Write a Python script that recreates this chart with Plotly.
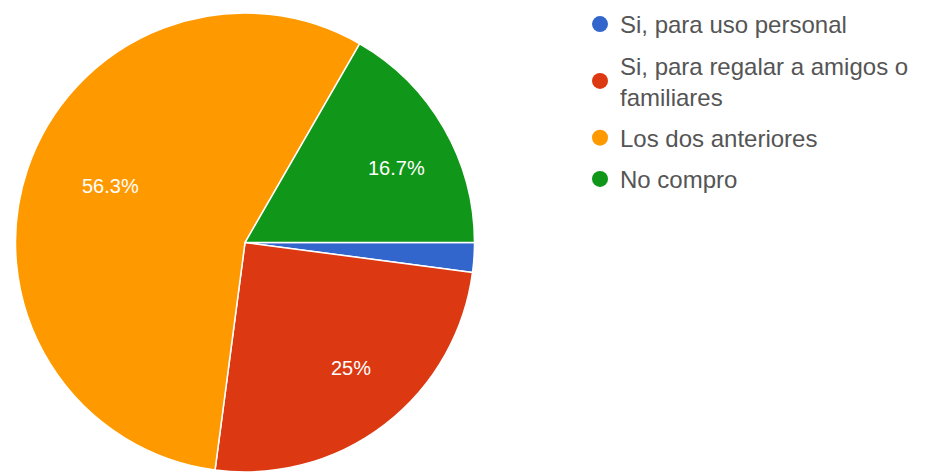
import math
from decimal import Decimal, ROUND_HALF_UP
import plotly.graph_objects as go

categories = ["Si, para uso personal", "Si, para regalar a amigos o familiares",
              "Los dos anteriores", "No compro"]
legend_names = ["Si, para uso personal", "Si, para regalar a amigos o<br>familiares",
                "Los dos anteriores", "No compro"]
values = [1, 12, 27, 8]
colors = ["#3366cc", "#dc3912", "#ff9900", "#109618"]

W, H = 927, 472
FONT = "Liberation Sans, Arial, sans-serif"

total = sum(values)
labels_txt = []
for v in values:
    p = Decimal(v * 100) / Decimal(total)
    s = str(p.quantize(Decimal("0.1"), rounding=ROUND_HALF_UP))
    s = s.rstrip("0").rstrip(".") + "%"
    labels_txt.append(s if p >= 5 else "")

dom_x = [0, 490 / W]
dom_y = [0, 459 / H]

fig = go.Figure()
fig.add_trace(go.Pie(
    labels=categories, values=values, textinfo="none",
    sort=False, direction="clockwise", rotation=90,
    marker=dict(colors=colors, line=dict(color="white", width=1.5)),
    domain=dict(x=dom_x, y=dom_y),
    showlegend=False, hoverinfo="label+percent",
))
for i, (nm, c) in enumerate(zip(legend_names, colors)):
    fig.add_trace(go.Scatter(
        x=[None], y=[None], mode="markers", name=nm, legendgroup=f"g{i}",
        marker=dict(color=c, size=16, symbol="circle"),
    ))

# pie geometry (pixels) derived from the domain
cx = (dom_x[0] + dom_x[1]) / 2 * W
cy = (1 - (dom_y[0] + dom_y[1]) / 2) * H
rad = min((dom_x[1] - dom_x[0]) * W, (dom_y[1] - dom_y[0]) * H) / 2
cum = 0
for v, t in zip(values, labels_txt):
    mid = (cum + v / 2) / total * 2 * math.pi
    cum += v
    if not t:
        continue
    px = cx + 0.76 * rad * math.cos(mid)
    py = cy + 0.76 * rad * math.sin(mid)
    fig.add_annotation(x=px / W, y=1 - py / H, xref="paper", yref="paper",
                       text=t, showarrow=False,
                       font=dict(family=FONT, size=20, color="white"))

fig.update_layout(
    width=W, height=H,
    margin=dict(l=0, r=0, t=0, b=0),
    paper_bgcolor="white", plot_bgcolor="white",
    xaxis=dict(visible=False), yaxis=dict(visible=False),
    legend=dict(x=580 / W, xanchor="left", y=1 - 2 / H, yanchor="top",
                font=dict(family=FONT, size=24, color="#555555"),
                tracegroupgap=7, bgcolor="rgba(0,0,0,0)"),
    font=dict(family=FONT),
)
fig.write_html("out.html")
